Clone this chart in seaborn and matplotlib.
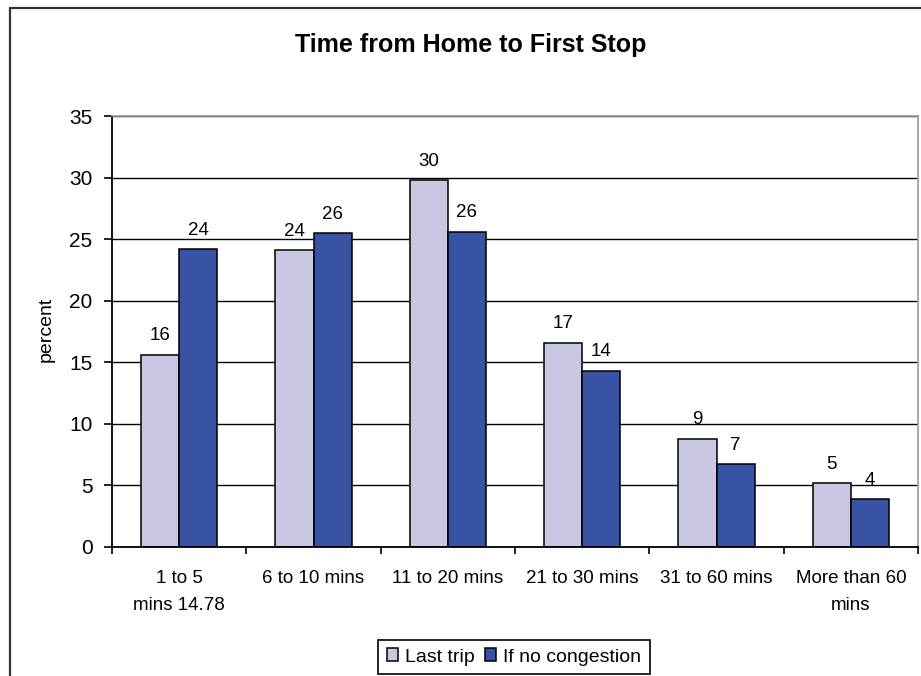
import matplotlib
matplotlib.use("Agg")
import matplotlib.pyplot as plt
from matplotlib.lines import Line2D
from matplotlib.ticker import FixedLocator
import numpy as np
import pandas as pd
import seaborn as sns

# Travel time categories and survey percentages
categories = ["1 to 5\nmins 14.78", "6 to 10 mins", "11 to 20 mins",
              "21 to 30 mins", "31 to 60 mins", "More than 60\nmins"]
last_trip = [15.6, 24.1, 29.8, 16.6, 8.8, 5.2]
no_congestion = [24.2, 25.5, 25.6, 14.3, 6.7, 3.9]
series_names = ["Last trip", "If no congestion"]
y_ticks = [0, 5, 10, 15, 20, 25, 30, 35]

df = pd.DataFrame({
    "category": categories * 2,
    "percent": last_trip + no_congestion,
    "series": [series_names[0]] * len(categories) + [series_names[1]] * len(categories),
})

sns.set_style("white")
plt.rcParams["font.family"] = ["Liberation Sans", "DejaVu Sans"]
plt.rcParams["text.color"] = "black"
plt.rcParams["xtick.color"] = "black"
plt.rcParams["ytick.color"] = "black"

W, H = 921, 676
fig = plt.figure(figsize=(W / 100, H / 100), dpi=100)
ax = fig.add_axes([112 / W, 1 - 547 / H, (918 - 112) / W, (547 - 116) / H])

light = "#C9C8E3"
dark = "#3953A4"

sns.barplot(data=df, x="category", y="percent", hue="series",
            hue_order=series_names, order=categories,
            palette=[light, dark], width=0.566, edgecolor="black",
            linewidth=1.1, saturation=1, ax=ax, legend=True)

# value labels above each bar
for cont in ax.containers:
    ax.bar_label(cont, fmt="%.0f", padding=7.5, fontsize=13.5, color="black")

ax.set_xlim(-0.5, len(categories) - 0.5)
ax.set_ylim(0, 35)
ax.set_yticks(y_ticks)
ax.set_xticks(range(len(categories)))
ax.set_xticklabels(categories, linespacing=1.75, va="top")
ax.set_xlabel("")
ax.set_ylabel("")

# horizontal gridlines
ax.grid(axis="y", color="black", linewidth=1.0)
ax.set_axisbelow(True)

for side in ["left", "bottom"]:
    ax.spines[side].set_color("black")
    ax.spines[side].set_linewidth(1.3)
for side in ["top", "right"]:
    ax.spines[side].set_visible(True)
    ax.spines[side].set_color("#9A9A9A")
    ax.spines[side].set_linewidth(1.2)

ax.tick_params(axis="y", which="major", direction="out", length=6, width=1.2,
               color="black", labelsize=15, pad=8, left=True, labelcolor="black")
ax.xaxis.set_minor_locator(FixedLocator(np.arange(-0.5, len(categories), 1.0)))
ax.tick_params(axis="x", which="minor", direction="out", length=5, width=1.2,
               color="black", bottom=True)
ax.tick_params(axis="x", which="major", length=0, labelsize=13.5, pad=16.5,
               labelcolor="black")

handles, labels = ax.get_legend_handles_labels()
ax.get_legend().remove()
leg = fig.legend(handles, labels, loc="center", bbox_to_anchor=(514 / W, 1 - 657 / H),
                 ncol=2, frameon=True, fancybox=False, edgecolor="black",
                 framealpha=1, fontsize=14, handlelength=0.6, handleheight=0.6,
                 handletextpad=0.35, columnspacing=0.5, borderpad=0.45,
                 borderaxespad=0)
leg.get_frame().set_linewidth(1.2)
for t in leg.get_texts():
    t.set_color("black")

fig.text(471 / W, 1 - 52 / H, "Time from Home to First Stop", ha="center",
         va="baseline", fontsize=18, fontweight="bold", color="black")
fig.text(46 / W, 1 - 329 / H, "percent", rotation=90, ha="center",
         va="center", fontsize=14, color="black")

# chart area frame
fig.add_artist(Line2D([9.5 / W, 9.5 / W], [0, 1 - 8 / H], transform=fig.transFigure,
                      color="#333333", linewidth=1.6))
fig.add_artist(Line2D([9.5 / W, 1], [1 - 8 / H, 1 - 8 / H], transform=fig.transFigure,
                      color="#333333", linewidth=1.6))

fig.savefig("out.png", dpi=100)
